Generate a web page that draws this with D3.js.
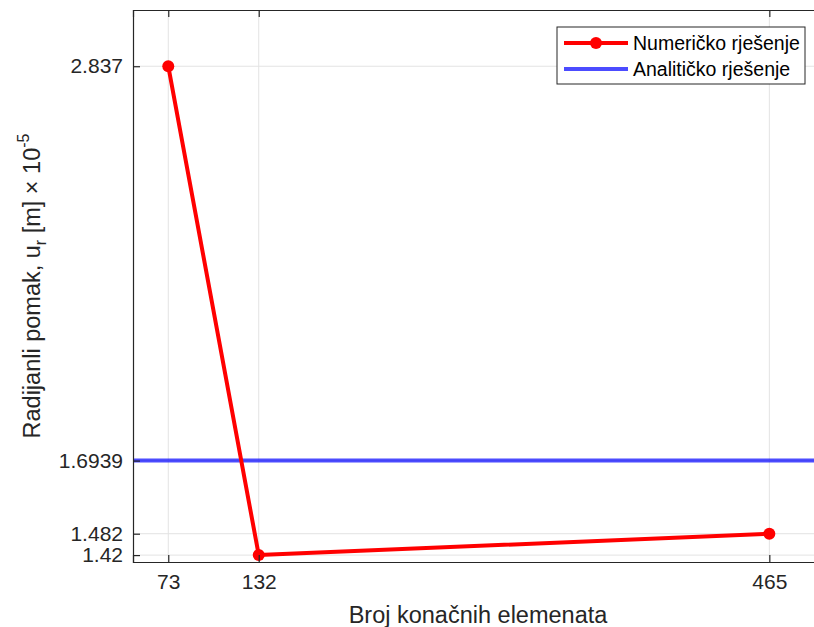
<!DOCTYPE html>
<html>
<head>
<meta charset="utf-8">
<script src="https://cdn.jsdelivr.net/npm/d3@7"></script>
<style>
  html, body { margin: 0; padding: 0; background: #fff; }
  svg { display: block; font-family: "Liberation Sans", Arial, Helvetica, sans-serif; }
</style>
</head>
<body>
<svg id="chart" width="814" height="627"></svg>
<script>
// Mesh sizes and computed radial displacement (×10^-5 m)
const elementCounts = [73, 132, 465];
const numericValues = [2.837, 1.42, 1.482];
const analyticValue = 1.6939;

const xTicks = [73, 132, 465];
const yTicks = [1.42, 1.482, 1.6939, 2.837];
const yTickLabels = ["1.42", "1.482", "1.6939", "2.837"];

const xDomain = [50, 500];
const yDomain = [1.4, 3.0];

const legendLabels = ["Numeričko rješenje", "Analitičko rješenje"];

const svg = d3.select("#chart");
const margin = { left: 133, top: 10, right: -9, bottom: 65 };
const W = 814, H = 627;
const x0 = margin.left, x1 = W - margin.right;
const y0 = margin.top, y1 = H - margin.bottom;

const x = d3.scaleLinear().domain(xDomain).range([x0, x1]);
const y = d3.scaleLinear().domain(yDomain).range([y1, y0]);

const axisColor = "#262626";
const gridColor = "#e3e3e3";

// grid
const grid = svg.append("g");
grid.selectAll("line.gx").data(xTicks).join("line")
  .attr("x1", d => x(d)).attr("x2", d => x(d))
  .attr("y1", y0).attr("y2", y1)
  .attr("stroke", gridColor).attr("stroke-width", 1);
grid.selectAll("line.gy").data(yTicks).join("line")
  .attr("x1", x0).attr("x2", x1)
  .attr("y1", d => y(d)).attr("y2", d => y(d))
  .attr("stroke", gridColor).attr("stroke-width", 1);

// analytic solution
svg.append("line")
  .attr("x1", x0).attr("x2", x1)
  .attr("y1", y(analyticValue)).attr("y2", y(analyticValue))
  .attr("stroke", "#0000ff").attr("stroke-opacity", 0.7)
  .attr("stroke-width", 4);

// numeric solution
const pts = elementCounts.map((c, i) => [c, numericValues[i]]);
svg.append("path")
  .datum(pts)
  .attr("d", d3.line().x(d => x(d[0])).y(d => y(d[1])))
  .attr("fill", "none").attr("stroke", "#ff0000")
  .attr("stroke-width", 4).attr("stroke-linejoin", "round");
svg.selectAll("circle.pt").data(pts).join("circle")
  .attr("cx", d => x(d[0])).attr("cy", d => y(d[1]))
  .attr("r", 6).attr("fill", "#ff0000");

// axes (inward ticks, MATLAB style)
const xAxisB = d3.axisBottom(x).tickValues(xTicks).tickSize(-7).tickPadding(12);
const xAxisT = d3.axisTop(x).tickValues(xTicks).tickSize(-7).tickFormat("");
const yAxisL = d3.axisLeft(y).tickValues(yTicks).tickSize(-7).tickPadding(10)
  .tickFormat((d, i) => yTickLabels[i]);

function styleAxis(g) {
  g.select(".domain").attr("stroke", axisColor).attr("stroke-width", 1.2);
  g.selectAll(".tick line").attr("stroke", axisColor).attr("stroke-width", 1.2);
  g.selectAll(".tick text").attr("fill", axisColor).attr("font-size", 21)
    .attr("font-family", "Liberation Sans, Arial, sans-serif");
}
svg.append("g").attr("transform", `translate(0,${y1})`).call(xAxisB).call(styleAxis);
svg.append("g").attr("transform", `translate(0,${y0})`).call(xAxisT).call(styleAxis);
svg.append("g").attr("transform", `translate(${x0},0)`).call(yAxisL).call(styleAxis);

// axis labels
svg.append("text")
  .attr("x", (x0 + x1) / 2).attr("y", 623)
  .attr("text-anchor", "middle").attr("font-size", 23.5).attr("fill", axisColor)
  .text("Broj konačnih elemenata");

const yl = svg.append("text")
  .attr("transform", `translate(40,${(y0 + y1) / 2}) rotate(-90)`)
  .attr("text-anchor", "middle").attr("font-size", 23.5).attr("fill", axisColor);
yl.append("tspan").text("Radijanli pomak, u");
yl.append("tspan").attr("font-size", 16).attr("dy", 6).text("r");
yl.append("tspan").attr("dy", -6).text(" [m] × 10");
yl.append("tspan").attr("font-size", 16).attr("dy", -11).text("-5");

// legend
const lg = svg.append("g").attr("transform", "translate(557,27)");
lg.append("rect").attr("width", 248).attr("height", 57)
  .attr("fill", "#fff").attr("stroke", axisColor).attr("stroke-width", 1);
const rows = lg.selectAll("g.row").data(legendLabels).join("g")
  .attr("transform", (d, i) => `translate(0,${16 + i * 26})`);
rows.append("line")
  .attr("x1", 7).attr("x2", 71).attr("y1", 0).attr("y2", 0)
  .attr("stroke", (d, i) => i === 0 ? "#ff0000" : "#0000ff")
  .attr("stroke-opacity", (d, i) => i === 0 ? 1 : 0.7)
  .attr("stroke-width", 4);
rows.filter((d, i) => i === 0).append("circle")
  .attr("cx", 39).attr("cy", 0).attr("r", 6).attr("fill", "#ff0000");
rows.append("text")
  .attr("x", 76).attr("y", 0).attr("dy", "0.35em")
  .attr("font-size", 19.5).attr("fill", "#000")
  .text(d => d);
</script>
</body>
</html>
